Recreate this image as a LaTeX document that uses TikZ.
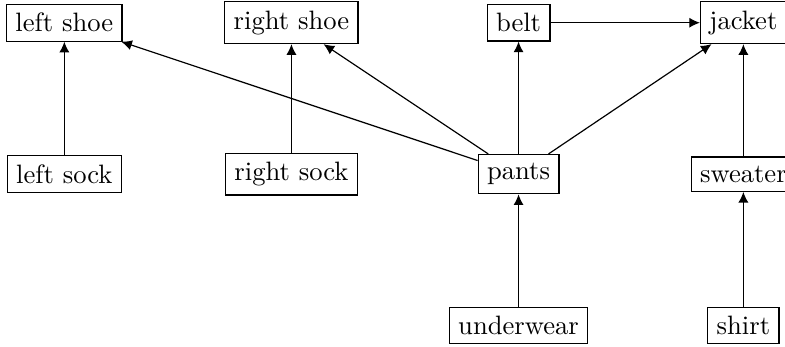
\documentclass[tikz,border=0pt]{standalone}
\usetikzlibrary{arrows.meta}
\begin{document}
\begin{tikzpicture}[
  item/.style={draw, rectangle, line width=0.45pt},
  dep/.style={-{Latex[length=4pt,width=3.8pt]}, line width=0.45pt}]
\useasboundingbox (-0.85,0.3) rectangle (9.52,-4.28);
\node[item] (lshoe) at (0,0) {left shoe};
\node[item] (rshoe) at (3,0) {right shoe};
\node[item] (belt) at (6,0) {belt};
\node[item] (jacket) at (8.97,0) {jacket};
\node[item] (lsock) at (0,-2) {left sock};
\node[item] (rsock) at (3,-2) {right sock};
\node[item] (pants) at (6,-2) {pants};
\node[item] (sweater) at (8.97,-2) {sweater};
\node[item] (underwear) at (6,-4) {underwear};
\node[item] (shirt) at (8.97,-4) {shirt};
\draw[dep] (lsock) -- (lshoe);
\draw[dep] (rsock) -- (rshoe);
\draw[dep] (pants) -- (lshoe);
\draw[dep] (pants) -- (rshoe);
\draw[dep] (pants) -- (belt);
\draw[dep] (pants) -- (jacket);
\draw[dep] (belt) -- (jacket);
\draw[dep] (underwear) -- (pants);
\draw[dep] (sweater) -- (jacket);
\draw[dep] (shirt) -- (sweater);
\end{tikzpicture}
\end{document}
